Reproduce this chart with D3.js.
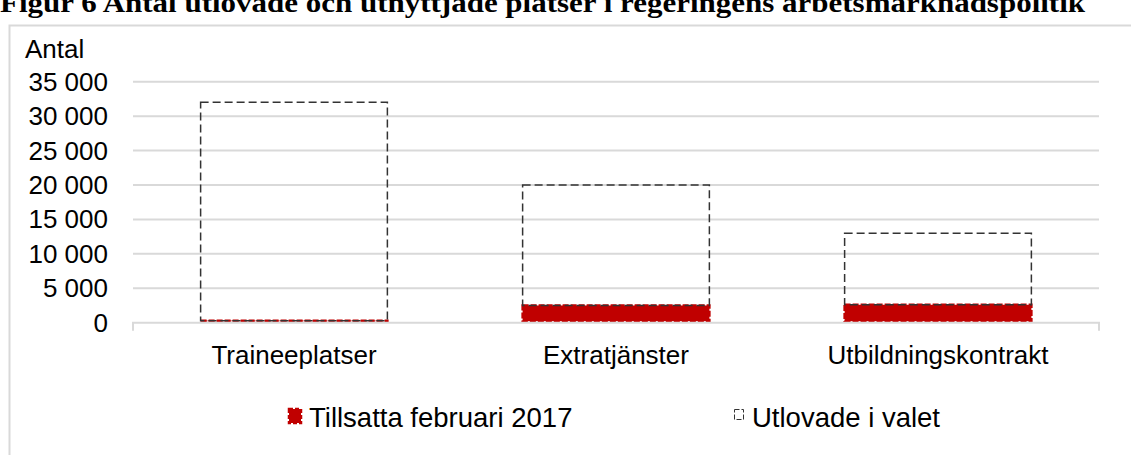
<!DOCTYPE html>
<html>
<head>
<meta charset="utf-8">
<script src="https://cdn.jsdelivr.net/npm/d3@7"></script>
<style>
  body { margin: 0; background: #fff; }
  svg { display: block; }
</style>
</head>
<body>
<div id="chart"></div>
<script>
const width = 1131;
const height = 455;

// data
const categories = ["Traineeplatser", "Extratjänster", "Utbildningskontrakt"];
const tillsatta = [300, 2500, 2600];      // Tillsatta februari 2017
const utlovade = [32000, 20000, 13000];   // Utlovade i valet (total)
const yTicks = [0, 5000, 10000, 15000, 20000, 25000, 30000, 35000];
const seriesNames = ["Tillsatta februari 2017", "Utlovade i valet"];

const plot = { left: 133, right: 1099, top: 81.7, bottom: 322.7 };
const red = "#c00000";
const grid = "#d9d9d9";
const font = "'Liberation Sans', Arial, sans-serif";

const svg = d3.select("#chart")
    .append("svg")
    .attr("width", width)
    .attr("height", height);

// title, partly cut off by the top of the picture as in the original
svg.append("text")
    .attr("x", 0)
    .attr("y", 12)
    .attr("font-family", "'Liberation Serif', 'Times New Roman', serif")
    .attr("font-weight", "bold")
    .attr("font-size", 27)
    .attr("textLength", 1085)
    .attr("lengthAdjust", "spacingAndGlyphs")
    .text("Figur 6 Antal utlovade och utnyttjade platser i regeringens arbetsmarknadspolitik");

// chart frame
svg.append("rect")
    .attr("x", 9.5)
    .attr("y", 25.5)
    .attr("width", 1200)
    .attr("height", 500)
    .attr("fill", "none")
    .attr("stroke", grid)
    .attr("stroke-width", 2);

const x = d3.scaleBand()
    .domain(categories)
    .range([plot.left, plot.right])
    .paddingInner(0.42)
    .paddingOuter(0.21);

const y = d3.scaleLinear()
    .domain([0, 35000])
    .range([plot.bottom, plot.top]);

const fmt = v => d3.format(",")(v).replace(/,/g, " ");

// gridlines
svg.append("g")
    .selectAll("line")
    .data(yTicks.filter(d => d > 0))
    .enter()
    .append("line")
    .attr("x1", plot.left)
    .attr("x2", plot.right)
    .attr("y1", d => y(d))
    .attr("y2", d => y(d))
    .attr("stroke", grid)
    .attr("stroke-width", 2);

// y tick labels
svg.append("g")
    .selectAll("text")
    .data(yTicks)
    .enter()
    .append("text")
    .attr("x", 108)
    .attr("y", d => y(d) + 9)
    .attr("text-anchor", "end")
    .attr("font-family", font)
    .attr("font-size", 26)
    .attr("fill", "#000")
    .text(fmt);

svg.append("text")
    .attr("x", 25)
    .attr("y", 58)
    .attr("font-family", font)
    .attr("font-size", 26)
    .text("Antal");

// bars: red first, promised remainder stacked on top with dashed outline
const bars = svg.append("g");

bars.selectAll("rect.till")
    .data(categories)
    .enter()
    .append("rect")
    .attr("class", "till")
    .attr("x", d => x(d))
    .attr("width", x.bandwidth())
    .attr("y", (d, i) => y(tillsatta[i]))
    .attr("height", (d, i) => y(0) - y(tillsatta[i]) - 1.5)
    .attr("fill", red)
    .attr("stroke", red)
    .attr("stroke-width", 2.5)
    .attr("stroke-dasharray", "6 2");

bars.selectAll("rect.utl")
    .data(categories)
    .enter()
    .append("rect")
    .attr("class", "utl")
    .attr("x", d => x(d))
    .attr("width", x.bandwidth())
    .attr("y", (d, i) => y(utlovade[i]))
    .attr("height", (d, i) => y(tillsatta[i]) - y(utlovade[i]))
    .attr("fill", "none")
    .attr("stroke", "#333")
    .attr("stroke-width", 1.5)
    .attr("stroke-dasharray", "8 4");

// x axis
const axis = svg.append("g").attr("stroke", grid).attr("stroke-width", 2).attr("fill", "none");
axis.append("path")
    .attr("d", `M${plot.left},${plot.bottom + 8}V${plot.bottom}H${plot.right}V${plot.bottom + 8}`);

svg.append("g")
    .selectAll("text")
    .data(categories)
    .enter()
    .append("text")
    .attr("x", d => x(d) + x.bandwidth() / 2)
    .attr("y", 364)
    .attr("text-anchor", "middle")
    .attr("font-family", font)
    .attr("font-size", 26)
    .text(d => d);

// legend
const legend = svg.append("g");
legend.append("rect")
    .attr("x", 289)
    .attr("y", 409)
    .attr("width", 12)
    .attr("height", 14)
    .attr("fill", red)
    .attr("stroke", red)
    .attr("stroke-width", 2.5)
    .attr("stroke-dasharray", "4 2");
legend.append("text")
    .attr("x", 309)
    .attr("y", 427)
    .attr("font-family", font)
    .attr("font-size", 27.5)
    .text(seriesNames[0]);

legend.append("rect")
    .attr("x", 734.5)
    .attr("y", 409.5)
    .attr("width", 9)
    .attr("height", 10)
    .attr("fill", "none")
    .attr("stroke", "#333")
    .attr("stroke-width", 1)
    .attr("stroke-dasharray", "5 2");
legend.append("text")
    .attr("x", 752)
    .attr("y", 427)
    .attr("font-family", font)
    .attr("font-size", 27.5)
    .text(seriesNames[1]);
</script>
</body>
</html>
